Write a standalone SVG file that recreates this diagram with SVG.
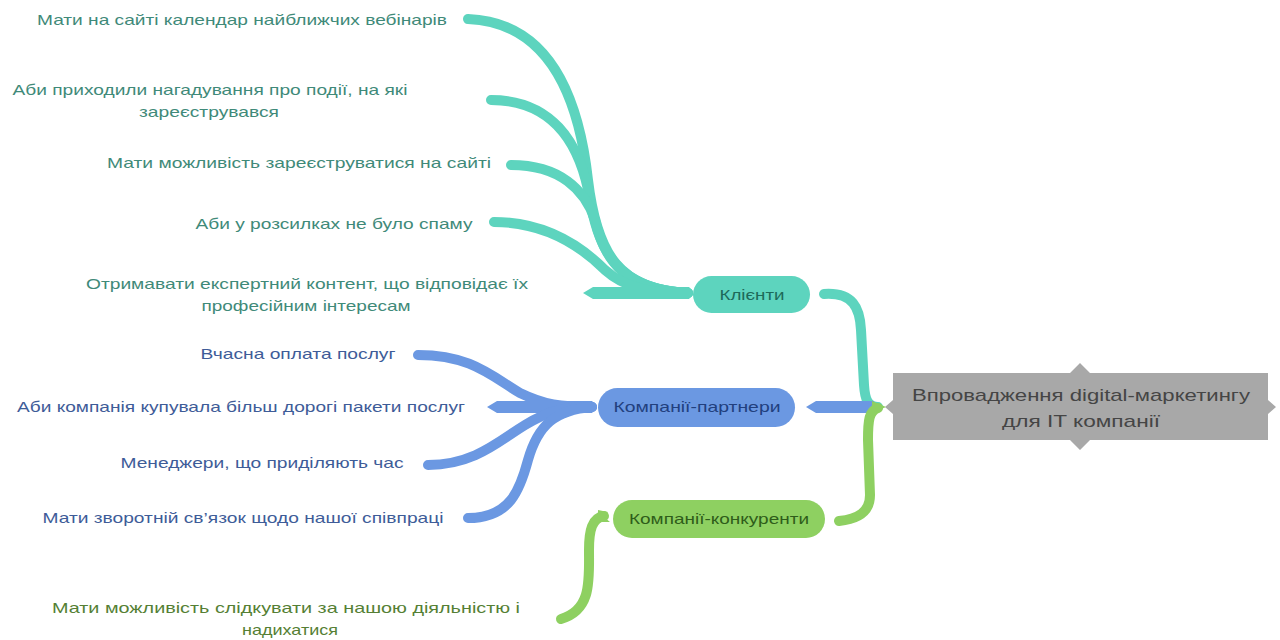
<svg xmlns="http://www.w3.org/2000/svg" width="1280" height="640" viewBox="0 0 1280 640">
  <style>
    text { font-family: "Liberation Sans", Arial, sans-serif; font-size: 15px; text-anchor: middle; }
    text.big { font-size: 17px; fill: #454545; }
    .teal { stroke: #5dd4be; fill: none; stroke-width: 10; stroke-linecap: round; }
    .blue { stroke: #6b98e2; fill: none; stroke-width: 10; stroke-linecap: round; }
    .green { stroke: #8ed061; fill: none; stroke-width: 10; stroke-linecap: round; }
    .tealf { fill: #5dd4be; }
    .bluef { fill: #6b98e2; }
    .greenf { fill: #8ed061; }
    .tt { fill: #3f8a79; }
    .bt { fill: #3e5c98; }
    .gt { fill: #557f34; }
    .tn { fill: #1d6a5a; }
    .bn { fill: #22407e; }
    .gn { fill: #2f5d1a; }
  </style>
  <rect width="1280" height="640" fill="#ffffff"/>
  <g id="connectors">
    <!-- teal leaves -->
    <path class="teal" d="M468,19 C545,22 578,90 588,180 C597,255 620,290 688,293"/>
    <path class="teal" d="M491,100 C550,100 580,140 590,200 C600,260 625,290 688,293"/>
    <path class="teal" d="M511,165 C560,165 585,190 595,220 C605,265 630,290 688,293"/>
    <path class="teal" d="M494,222 C550,222 585,250 605,270 C625,288 650,293 688,293"/>
    <polygon class="tealf" points="583,293 593,287 690,287 684,293 690,299 593,299"/>
    <!-- blue leaves -->
    <path class="blue" d="M418,355 C470,355 490,375 520,393 C545,405 560,407 592,407"/>
    <polygon class="bluef" points="487,407 497,401 593,401 587,407 593,413 497,413"/>
    <path class="blue" d="M428,465 C475,465 500,440 525,425 C550,410 565,407 592,407"/>
    <path class="blue" d="M468,518 C510,518 520,490 528,460 C538,425 555,410 592,407"/>
    <!-- green leaf -->
    <path class="green" d="M604,516 C592,518 589,530 589,550 C589,580 592,610 561,619"/>
    <polygon class="greenf" points="598,510 608,512 604,517 610,522 598,522"/>
    <!-- root connectors -->
    <path class="teal" d="M824,294 C853,292 860,308 861,330 L864,385 C865,400 868,407 878,407" stroke-width="11"/>
    <polygon class="bluef" points="806,407 816,401 874,401 874,413 816,413"/>
    <path class="green" d="M878,408 C869,411 868,420 868,440 L870,495 C870,512 858,519 839,521" stroke-width="11"/>
    <polygon class="greenf" points="872,401 886,407 872,413"/>
  </g>

  <g id="root">
    <path d="M893,373 L1070,373 L1080,363 L1090,373 L1268,373 L1268,400 L1276,407 L1268,414 L1268,440 L1090,440 L1080,450 L1070,440 L893,440 L893,414 L885,407 L893,400 Z" fill="#a8a8a8"/>
    <text class="big" x="1081" y="401" textLength="338" lengthAdjust="spacingAndGlyphs">Впровадження digital-маркетингу</text>
    <text class="big" x="1081" y="427" textLength="158" lengthAdjust="spacingAndGlyphs">для IT компанії</text>
  </g>

  <g id="node-klienty">
    <rect x="693" y="276" width="117" height="37" rx="18.5" fill="#5dd4be"/>
    <text class="tn" x="752" y="300" textLength="65" lengthAdjust="spacingAndGlyphs">Клієнти</text>
  </g>
  <g id="node-partnery">
    <rect x="598" y="388" width="197" height="39" rx="19.5" fill="#6b98e2"/>
    <text class="bn" x="697" y="412" textLength="167" lengthAdjust="spacingAndGlyphs">Компанії-партнери</text>
  </g>
  <g id="node-konkurenty">
    <rect x="613" y="500" width="212" height="38" rx="19" fill="#8ed061"/>
    <text class="gn" x="719" y="524" textLength="180" lengthAdjust="spacingAndGlyphs">Компанії-конкуренти</text>
  </g>

  <g id="leaf-1">
    <text class="tt" x="242" y="25" textLength="410" lengthAdjust="spacingAndGlyphs">Мати на сайті календар найближчих вебінарів</text>
  </g>
  <g id="leaf-2">
    <text class="tt" x="210" y="95" textLength="395" lengthAdjust="spacingAndGlyphs">Аби приходили нагадування про події, на які</text>
    <text class="tt" x="209" y="117" textLength="140" lengthAdjust="spacingAndGlyphs">зареєструвався</text>
  </g>
  <g id="leaf-3">
    <text class="tt" x="299" y="168" textLength="384" lengthAdjust="spacingAndGlyphs">Мати можливість зареєструватися на сайті</text>
  </g>
  <g id="leaf-4">
    <text class="tt" x="334" y="229" textLength="277" lengthAdjust="spacingAndGlyphs">Аби у розсилках не було спаму</text>
  </g>
  <g id="leaf-5">
    <text class="tt" x="307" y="289" textLength="442" lengthAdjust="spacingAndGlyphs">Отримавати експертний контент, що відповідає їх</text>
    <text class="tt" x="306" y="311" textLength="209" lengthAdjust="spacingAndGlyphs">професійним інтересам</text>
  </g>
  <g id="leaf-6">
    <text class="bt" x="298" y="359" textLength="195" lengthAdjust="spacingAndGlyphs">Вчасна оплата послуг</text>
  </g>
  <g id="leaf-7">
    <text class="bt" x="241" y="412" textLength="448" lengthAdjust="spacingAndGlyphs">Аби компанія купувала більш дорогі пакети послуг</text>
  </g>
  <g id="leaf-8">
    <text class="bt" x="262" y="468" textLength="283" lengthAdjust="spacingAndGlyphs">Менеджери, що приділяють час</text>
  </g>
  <g id="leaf-9">
    <text class="bt" x="243" y="523" textLength="401" lengthAdjust="spacingAndGlyphs">Мати зворотній св’язок щодо нашої співпраці</text>
  </g>
  <g id="leaf-10">
    <text class="gt" x="286" y="613" textLength="468" lengthAdjust="spacingAndGlyphs">Мати можливість слідкувати за нашою діяльністю і</text>
    <text class="gt" x="290" y="635" textLength="96" lengthAdjust="spacingAndGlyphs">надихатися</text>
  </g>
</svg>
